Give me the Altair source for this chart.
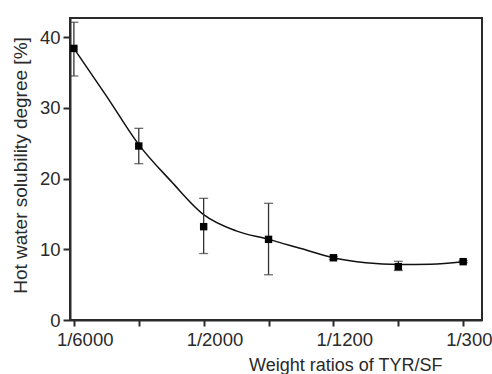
import altair as alt
import pandas as pd

# Data
ratio_index = [0, 1, 2, 3, 4, 5, 6]
solubility = [38.4, 24.6, 13.2, 11.4, 8.8, 7.55, 8.25]
err_low = [34.5, 22.1, 9.4, 6.4, 8.55, 7.0, 8.1]
err_high = [42.1, 27.1, 17.2, 16.5, 9.0, 8.3, 8.4]

# fitted smooth curve
curve_x = [0, 0.5, 1, 1.5, 2, 2.5, 3, 3.5, 4, 4.5, 5, 5.5, 6]
curve_y = [38.4, 31.7, 24.8, 19.6, 14.9, 12.6, 11.4, 10.1, 8.8, 8.1, 7.85, 7.9, 8.25]

tick_labels = ["1/6000", "", "1/2000", "", "1/1200", "", "1/300"]

pts = pd.DataFrame({"x": ratio_index, "y": solubility, "lo": err_low, "hi": err_high})
curve = pd.DataFrame({"x": curve_x, "y": curve_y})

label_expr = "[" + ",".join(f"'{t}'" for t in tick_labels) + "][round(datum.value)]"

FONT = "Liberation Sans"
GREY = "#2a2a2a"

xscale = alt.Scale(domain=[-0.06, 6.29], nice=False, zero=False)
yscale = alt.Scale(domain=[0, 42.7], nice=False)

xaxis = alt.Axis(
    values=ratio_index, labelExpr=label_expr, title="Weight ratios of TYR/SF",
    grid=False, tickSize=6, tickWidth=2, tickColor=GREY, domainColor=GREY, domainWidth=2,
    labelFont=FONT, labelFontSize=18.5, labelColor=GREY, labelPadding=4,
    labelAlign="left", labelOffset=-17.5, labelOverlap=False, labelBound=False, labelFlush=False,
    titleFont=FONT, titleFontSize=18, titleFontWeight="normal", titleColor=GREY,
    titleX=372, titleY=50, titleAlign="right", titleBaseline="alphabetic",
)
yaxis = alt.Axis(
    values=[0, 10, 20, 30, 40], title="Hot water solubility degree [%]",
    grid=False, tickSize=7, tickWidth=2, tickColor=GREY, domainColor=GREY, domainWidth=2,
    labelFont=FONT, labelFontSize=18.5, labelColor=GREY, labelPadding=3,
    titleFont=FONT, titleFontSize=19, titleFontWeight="normal", titleColor=GREY,
    titleX=-50, titleY=147, titleAngle=-90, titleAlign="center", titleBaseline="middle",
)

base = alt.Chart(pts)

line = alt.Chart(curve).mark_line(color="#111111", strokeWidth=1.5, interpolate="monotone").encode(
    x=alt.X("x:Q", scale=xscale, axis=xaxis),
    y=alt.Y("y:Q", scale=yscale, axis=yaxis),
)

rules = base.mark_rule(color="#333333", strokeWidth=1.3).encode(
    x=alt.X("x:Q", scale=xscale),
    y=alt.Y("lo:Q", scale=yscale),
    y2="hi:Q",
)
cap_lo = base.mark_tick(color="#333333", orient="horizontal", size=9, thickness=1.3).encode(
    x=alt.X("x:Q", scale=xscale), y=alt.Y("lo:Q", scale=yscale)
)
cap_hi = base.mark_tick(color="#333333", orient="horizontal", size=9, thickness=1.3).encode(
    x=alt.X("x:Q", scale=xscale), y=alt.Y("hi:Q", scale=yscale)
)
squares = base.mark_square(color="black", size=55, opacity=1, filled=True).encode(
    x=alt.X("x:Q", scale=xscale), y=alt.Y("y:Q", scale=yscale)
)

chart = alt.layer(line, rules, cap_lo, cap_hi, squares).properties(
    width=412, height=302,
    autosize=alt.AutoSizeParams(type="none"),
    padding={"left": 70, "top": 18, "right": 10, "bottom": 54},
    background="white",
).configure_view(stroke=GREY, strokeWidth=2)

chart.save("out.html", embed_options={"renderer": "svg", "actions": False})
